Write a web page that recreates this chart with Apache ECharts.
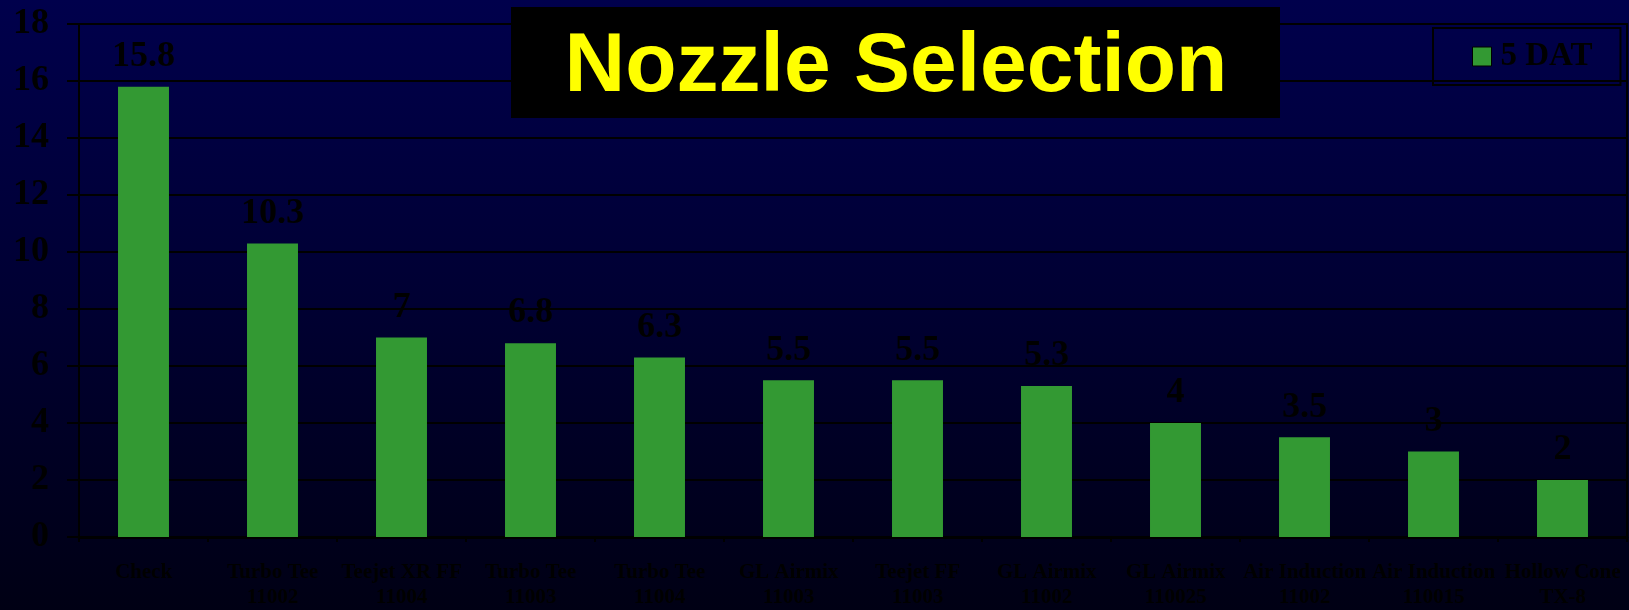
<!DOCTYPE html>
<html>
<head>
<meta charset="utf-8">
<script src="https://cdn.jsdelivr.net/npm/echarts@6/dist/echarts.min.js"></script>
<style>
html,body{margin:0;padding:0;background:#000020;}
#chart{width:1629px;height:610px;}
</style>
</head>
<body>
<div id="chart"></div>
<script>
const categories = [
  'Check',
  'Turbo Tee\n11002',
  'Teejet XR FF\n11004',
  'Turbo Tee\n11003',
  'Turbo Tee\n11004',
  'GL Airmix\n11003',
  'Teejet FF\n11003',
  'GL Airmix\n11002',
  'GL Airmix\n110025',
  'Air Induction\n11002',
  'Air Induction\n110015',
  'Hollow Cone\nTX-8'
];
const values5DAT = [15.8, 10.3, 7, 6.8, 6.3, 5.5, 5.5, 5.3, 4, 3.5, 3, 2];
const seriesName = '5 DAT';
const chartTitle = 'Nozzle Selection';

const chart = echarts.init(document.getElementById('chart'), null, {renderer: 'canvas'});
const serif = '"Liberation Serif", "DejaVu Serif", serif';
chart.setOption({
  animation: false,
  backgroundColor: {
    type: 'linear', x: 0, y: 0, x2: 0, y2: 1,
    colorStops: [
      {offset: 0, color: '#00004c'},
      {offset: 0.5, color: '#000032'},
      {offset: 1, color: '#000014'}
    ]
  },
  grid: {
    left: 79, right: 2, top: 24, bottom: 71,
    show: true, borderColor: '#000000', borderWidth: 2,
    containLabel: false
  },
  legend: {
    left: 1433, top: 28,
    padding: [11, 28, 11, 39],
    borderColor: '#000000', borderWidth: 2,
    itemWidth: 19, itemHeight: 19,
    icon: 'rect',
    itemStyle: {borderColor: '#000000', borderWidth: 1},
    textStyle: {color: '#000000', fontFamily: serif, fontWeight: 'bold', fontSize: 33, lineHeight: 33, padding: [2, 0, 0, 4]},
    data: [seriesName]
  },
  graphic: [
    {type: 'rect', shape: {x: 511, y: 7, width: 769, height: 111}, style: {fill: '#000000'}, z: 100},
    {type: 'text', x: 896, y: 68, z: 101,
     style: {text: chartTitle, fill: '#ffff00', font: 'bold 84px "Liberation Sans", Arial, sans-serif',
             textAlign: 'center', textVerticalAlign: 'middle'}}
  ],
  xAxis: {
    type: 'category',
    data: categories,
    axisLine: {lineStyle: {color: '#000000', width: 3}},
    axisTick: {show: true, length: 5, lineStyle: {color: '#000000', width: 2}},
    axisLabel: {
      interval: 0, color: '#000000', fontFamily: serif, fontWeight: 'bold',
      fontSize: 21, lineHeight: 25, margin: 23
    }
  },
  yAxis: {
    type: 'value', min: 0, max: 18, interval: 2,
    axisLine: {show: true, lineStyle: {color: '#000000', width: 2}},
    axisTick: {show: true, length: 12, lineStyle: {color: '#000000', width: 2}},
    splitLine: {show: true, lineStyle: {color: '#000000', width: 2}},
    axisLabel: {color: '#000000', fontFamily: serif, fontWeight: 'bold', fontSize: 36, margin: 30}
  },
  series: [{
    name: seriesName,
    type: 'bar',
    data: values5DAT,
    barWidth: '39.5%',
    itemStyle: {color: '#339933'},
    label: {
      show: true, position: 'top', distance: 12,
      color: '#000000', fontFamily: serif, fontWeight: 'bold', fontSize: 36
    }
  }]
});
</script>
</body>
</html>
